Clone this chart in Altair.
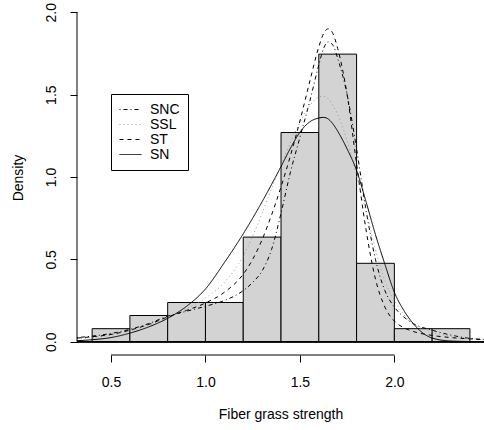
import altair as alt
import pandas as pd

# ---------------- data ----------------
BIN_LEFT = [0.4, 0.6, 0.8, 1.0, 1.2, 1.4, 1.6, 1.8, 2.0, 2.2]
BIN_RIGHT = [0.6, 0.8, 1.0, 1.2, 1.4, 1.6, 1.8, 2.0, 2.2, 2.4]
BIN_DENSITY = [0.079, 0.159, 0.238, 0.238, 0.635, 1.270, 1.746, 0.476, 0.079, 0.079]

GRID = [0.32, 0.4, 0.5, 0.6, 0.7, 0.8, 0.9, 1.0, 1.1, 1.2, 1.25, 1.3, 1.35, 1.4,
        1.45, 1.5, 1.55, 1.6, 1.625, 1.65, 1.675, 1.7, 1.75, 1.8, 1.85, 1.9,
        1.95, 2.0, 2.05, 2.1, 2.2, 2.3, 2.4, 2.48]

SN = [0.006, 0.012, 0.025, 0.052, 0.09, 0.142, 0.215, 0.32, 0.48, 0.655, 0.75,
      0.85, 0.955, 1.063, 1.175, 1.272, 1.333, 1.358, 1.362, 1.352, 1.322, 1.278,
      1.17, 1.04, 0.85, 0.65, 0.47, 0.30, 0.19, 0.11, 0.022, 0.004, 0.001, 0.0]

ST = [0.022, 0.03, 0.044, 0.07, 0.105, 0.15, 0.19, 0.235, 0.30, 0.41, 0.50,
      0.62, 0.77, 0.94, 1.13, 1.34, 1.57, 1.79, 1.87, 1.90, 1.87, 1.78,
      1.50, 1.08, 0.68, 0.38, 0.21, 0.125, 0.085, 0.062, 0.038, 0.025, 0.017, 0.013]

SNC = [0.025, 0.034, 0.05, 0.075, 0.11, 0.155, 0.185, 0.215, 0.25, 0.31, 0.36,
       0.43, 0.56, 0.78, 1.03, 1.24, 1.45, 1.68, 1.78, 1.82, 1.80, 1.72,
       1.50, 1.17, 0.80, 0.50, 0.31, 0.21, 0.15, 0.11, 0.07, 0.04, 0.02, 0.012]

SSL = [0.018, 0.026, 0.04, 0.065, 0.10, 0.145, 0.20, 0.265, 0.36, 0.52, 0.64,
       0.78, 0.93, 1.07, 1.21, 1.33, 1.43, 1.485, 1.49, 1.475, 1.435, 1.38,
       1.22, 1.01, 0.79, 0.56, 0.37, 0.25, 0.165, 0.11, 0.058, 0.034, 0.021, 0.015]

MODELS = ["SNC", "SSL", "ST", "SN"]
MODEL_COLORS = ["black", "#9a9a9a", "black", "black"]
MODEL_DASHES = [[1, 3, 4, 3], [1, 3], [4, 4], [1, 0]]

X_TICKS = [0.5, 1.0, 1.5, 2.0]
Y_TICKS = [0.0, 0.5, 1.0, 1.5, 2.0]
X_DOMAIN = [0.32, 2.4745]
Y_DOMAIN = [-0.0808, 2.0747]

# ---------------- tables ----------------
bins = pd.DataFrame({"x0": BIN_LEFT, "x1": BIN_RIGHT, "density": BIN_DENSITY})

rows = []
for name, vals in [("SNC", SNC), ("SSL", SSL), ("ST", ST), ("SN", SN)]:
    for gx, gy in zip(GRID, vals):
        rows.append({"x": gx, "density": gy, "model": name})
curves_df = pd.DataFrame(rows)

FONT = "Liberation Sans"
FS = 14

xs = alt.Scale(domain=X_DOMAIN, nice=False, zero=False)
ys = alt.Scale(domain=Y_DOMAIN, nice=False, zero=False)

x_axis = alt.Axis(values=X_TICKS, format=".1f", tickSize=7, labelPadding=13,
                  domain=False, grid=False, labelFlush=False, labelOverlap=False,
                  title="Fiber grass strength", titleY=63, titleBaseline="alphabetic",
                  titleAlign="center")
y_axis = alt.Axis(values=Y_TICKS, format=".1f", tickSize=7, labelPadding=15,
                  labelAngle=270, labelAlign="center", labelBaseline="alphabetic",
                  domain=False, grid=False, labelFlush=False, labelOverlap=False,
                  title="Density", titleAngle=270, titleX=-55, titleY=177.5,
                  titleAlign="center", titleBaseline="alphabetic")

bars = alt.Chart(bins).mark_rect(fill="#D3D3D3", stroke="black", strokeWidth=1).encode(
    x=alt.X("x0:Q", scale=xs, axis=x_axis),
    x2="x1:Q",
    y=alt.Y("density:Q", scale=ys, axis=y_axis),
    y2=alt.datum(0),
)

zero_line = alt.Chart(bins).mark_rule(color="black", strokeWidth=1).encode(
    y=alt.datum(0)
)

legend = alt.Legend(orient="none", legendX=34, legendY=94, symbolType="stroke",
                    symbolSize=484, symbolStrokeWidth=1, labelOffset=8,
                    padding=8, clipHeight=15, rowPadding=0, strokeColor="black",
                    fillColor="white", labelFontSize=FS, labelFont=FONT,
                    labelColor="black", cornerRadius=0)

curves = alt.Chart(curves_df).mark_line(strokeWidth=1, clip=True,
                                        interpolate="monotone").encode(
    x=alt.X("x:Q", scale=xs),
    y=alt.Y("density:Q", scale=ys),
    color=alt.Color("model:N", scale=alt.Scale(domain=MODELS, range=MODEL_COLORS),
                    legend=legend, title=None),
    strokeDash=alt.StrokeDash("model:N", scale=alt.Scale(domain=MODELS, range=MODEL_DASHES),
                              legend=legend, title=None),
    order=alt.Order("x:Q"),
)

ticks_df = pd.DataFrame({"lo": [min(X_TICKS)], "hi": [max(X_TICKS)],
                         "ylo": [min(Y_TICKS)], "yhi": [max(Y_TICKS)]})

x_axis_line = alt.Chart(ticks_df).mark_rule(color="black", strokeWidth=1).encode(
    x=alt.X("lo:Q", scale=xs), x2="hi:Q", y=alt.datum(Y_DOMAIN[0])
)
y_axis_line = alt.Chart(ticks_df).mark_rule(color="black", strokeWidth=1).encode(
    y=alt.Y("ylo:Q", scale=ys), y2="yhi:Q", x=alt.datum(X_DOMAIN[0])
)

chart = alt.layer(bars, zero_line, curves, x_axis_line, y_axis_line).properties(
    width=407, height=355,
    padding={"left": 77, "top": 0, "right": 0, "bottom": 75},
    autosize=alt.AutoSizeParams(type="none"),
).configure(font=FONT).configure_view(stroke=None).configure_axis(
    labelFont=FONT, labelFontSize=FS, labelColor="black", tickColor="black",
    titleFont=FONT, titleFontSize=FS, titleFontWeight="normal", titleColor="black",
)

chart.save("out.html", embed_options={"renderer": "svg", "actions": False})
